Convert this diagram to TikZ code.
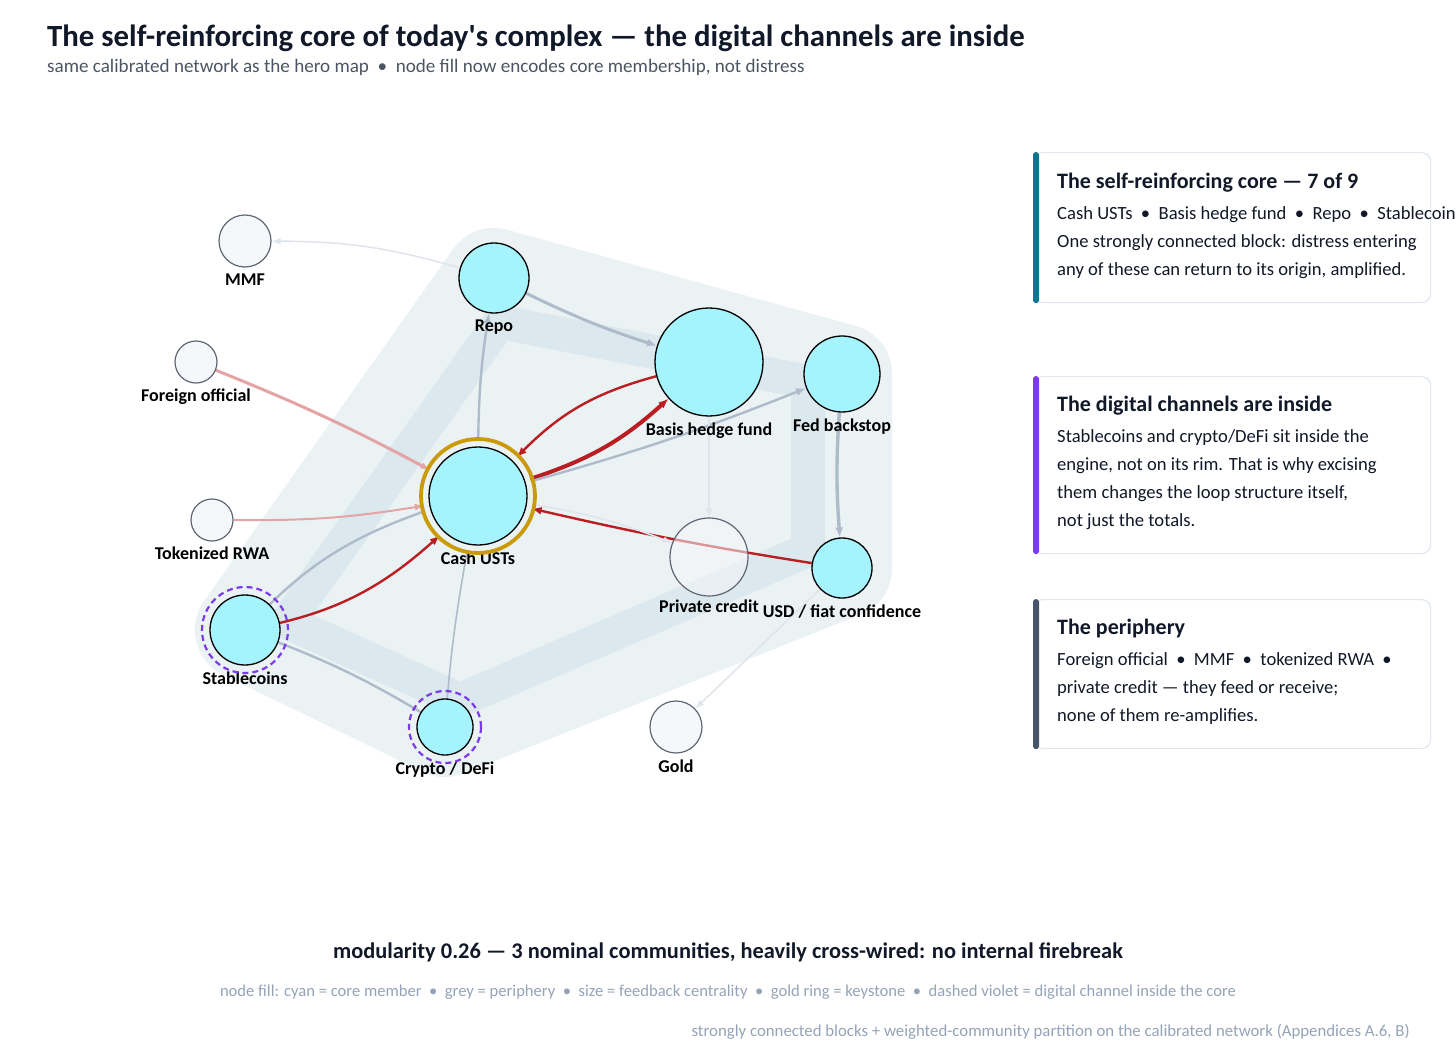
\documentclass[tikz,border=0pt]{standalone}
\usepackage{fontspec}
\setmainfont{Carlito}
\usetikzlibrary{arrows.meta, positioning, calc}

\definecolor{corecyan}{HTML}{A5F3FC}
\definecolor{hullpale}{HTML}{EAF2F4}
\definecolor{hullband}{HTML}{DBE8ED}
\definecolor{perifill}{HTML}{F5F7FB}
\definecolor{peririm}{HTML}{5F6673}
\definecolor{perilabel}{HTML}{6B7280}
\definecolor{keygold}{HTML}{CA9A08}
\definecolor{digviolet}{HTML}{7C3AED}
\definecolor{ampred}{HTML}{BA1E22}
\definecolor{leakpink}{HTML}{E4A4A6}
\definecolor{flowgrey}{HTML}{AEBBCA}
\definecolor{faintgrey}{HTML}{E0E5EC}
\definecolor{panelrim}{HTML}{E2E8F0}
\definecolor{accentteal}{HTML}{0E7490}
\definecolor{accentslate}{HTML}{475569}
\definecolor{inkdark}{HTML}{111827}
\definecolor{subgrey}{HTML}{4B5563}
\definecolor{notegrey}{HTML}{94A3B8}

\pgfdeclarelayer{hull}
\pgfdeclarelayer{edges}
\pgfsetlayers{hull,edges,main}

\begin{document}
\begin{tikzpicture}[x=1pt, y=-1pt, font=\fontsize{18}{21}\selectfont,
          core/.style={circle, draw=black, line width=1.3pt, fill=corecyan, inner sep=0pt},
          peri/.style={circle, draw=peririm, line width=1.2pt, fill=perifill, inner sep=0pt,
            every label/.append style={text=perilabel}},
          ringed/.style={outer sep=6pt},
          every label/.style={font=\fontsize{18}{21}\selectfont\bfseries, inner sep=1pt},
          flow/.style={-{Latex[length=10pt,width=8pt]}, draw=flowgrey, line width=2.4pt},
          faint/.style={-{Latex[length=9pt,width=7pt]}, draw=faintgrey, line width=1.6pt},
          amp/.style={-{Latex[length=10pt,width=8pt]}, draw=ampred, line width=2.4pt},
          leak/.style={-{Latex[length=9pt,width=7pt]}, draw=leakpink, line width=2.4pt},
          panel/.style={draw=panelrim, line width=1.2pt, fill=white, rounded corners=9pt, anchor=north west,
            minimum width=397pt, inner sep=0pt},
          ptitle/.style={anchor=base west, inner sep=0pt, font=\fontsize{22}{26}\selectfont\bfseries, text=inkdark},
          pbody/.style={anchor=base west, inner sep=0pt, align=left, font=\fontsize{18.6}{28}\selectfont, text=inkdark}]
  \useasboundingbox (0,0) rectangle (1456,1057);

  % heading
  \node [anchor=base west, inner sep=0pt, font=\fontsize{30.8}{34}\selectfont\bfseries, text=inkdark] (title) at (47,47)
    {The self-reinforcing core of today\textquotesingle s complex — the digital channels are inside};
  \node [anchor=base west, inner sep=0pt, font=\fontsize{19.1}{22}\selectfont, text=subgrey] (subtitle) at (47,73)
    {same calibrated network as the hero map \ • \ node fill now encodes core membership, not distress};

  % network nodes
  \node [peri, minimum size=52pt, label={[label distance=5pt]below:MMF}] (mmf) at (245,241) {};
  \node [peri, minimum size=42pt, label={[label distance=4pt]below:Foreign official}] (forn) at (196,362) {};
  \node [peri, minimum size=42pt, label={[label distance=4pt]below:Tokenized RWA}] (rwa) at (212,520) {};
  \node [core, minimum size=70pt, label={[label distance=5pt]below:Repo}] (repo) at (494,278) {};
  \node [core, minimum size=108pt, label={[label distance=5pt]below:Basis hedge fund}] (basis) at (709,362) {};
  \node [core, minimum size=76pt, label={[label distance=5pt]below:Fed backstop}] (fed) at (842,374) {};
  \node [core, ringed, minimum size=98pt, label=below:Cash USTs] (cash) at (478,496) {};
  \node [peri, minimum size=78pt, fill opacity=0.55, text opacity=1, label={[label distance=2pt]below:Private credit}] (pcred) at (709,557) {};
  \node [core, minimum size=60pt, label={[label distance=5pt]below:USD / fiat confidence}] (usd) at (842,568) {};
  \node [core, ringed, minimum size=70pt, label=below:Stablecoins] (stab) at (245,630) {};
  \node [core, ringed, minimum size=56pt, label=below:Crypto / DeFi] (crypto) at (445,727) {};
  \node [peri, minimum size=52pt, label={[label distance=5pt]below:Gold}] (gold) at (676,727) {};

  % keystone and digital rings
  \draw [keygold, line width=3.8pt] (cash.center) circle [radius=57pt];
  \draw [digviolet, line width=2.2pt, dash pattern=on 6pt off 4pt] (stab.center) circle [radius=43pt];
  \draw [digviolet, line width=2.2pt, dash pattern=on 6pt off 4pt] (crypto.center) circle [radius=36pt];

  % core hull
  \begin{pgfonlayer}{hull}
    \filldraw [hullpale, line width=100pt, line join=round]
      (stab.center) -- (repo.center) -- (fed.center) -- (usd.center) -- (crypto.center) -- cycle;
    \draw [hullband, line width=34pt, line join=miter]
      (287,622) -- (500,322) -- (808,382) -- (808,550) -- (460,700) -- cycle;
  \end{pgfonlayer}

  % connectors (ends under the digital nodes are hidden by their fill)
  \begin{pgfonlayer}{edges}
    \draw [faint] (repo) to[bend right=8] (mmf);
    \draw [leak, line width=3pt] (forn) to[bend left=3] (cash);
    \draw [leak, line width=2pt] (rwa) to[bend right=5] (cash);
    \draw [flow] (cash) to[bend left=4] (repo);
    \draw [flow, line width=3pt] (repo) to[bend right=4] (basis);
    \draw [amp] (basis) to[bend right=15] (cash);
    \draw [amp, line width=4pt] (cash) to[bend right=12] (basis);
    \draw [flow] (cash) to[bend right=3] (fed);
    \draw [flow, line width=3.4pt] (fed) to[bend right=4] (usd);
    \draw [amp] (usd) to[bend left=2] (cash);
    \draw [faint] (cash) to[bend left=6] (pcred);
    \draw [faint] (basis) -- (pcred);
    \draw [amp] (stab.center) to[bend right=16] (cash);
    \draw [flow, -] (cash) to[bend right=14] (stab.center);
    \draw [flow, -, line width=1.6pt] (cash) to[bend right=3] (crypto.center);
    \draw [flow, -] (stab.center) to[bend left=6] (crypto.center);
    \draw [faint] (usd) -- (gold);
  \end{pgfonlayer}

  % side panels
  \node [panel, minimum height=150pt] (pcore) at (1033,152) {};
  \fill [accentteal, rounded corners=3pt] (pcore.north west) rectangle ($(pcore.south west)+(6,0)$);
  \node [ptitle] (pcoretitle) at (1057,188) {The self-reinforcing core — 7 of 9};
  \node [pbody] (pcorebody) at (1057,275)
    {Cash USTs \ • \ Basis hedge fund \ • \ Repo \ • \ Stablecoins\\
     One strongly connected block: distress entering\\
     any of these can return to its origin, amplified.};

  \node [panel, minimum height=177pt] (pdigital) at (1033,376) {};
  \fill [digviolet, rounded corners=3pt] (pdigital.north west) rectangle ($(pdigital.south west)+(6,0)$);
  \node [ptitle] (pdigitaltitle) at (1057,411) {The digital channels are inside};
  \node [pbody] (pdigitalbody) at (1057,526)
    {Stablecoins and crypto/DeFi sit inside the\\
     engine, not on its rim. That is why excising\\
     them changes the loop structure itself,\\
     not just the totals.};

  \node [panel, minimum height=149pt] (pperi) at (1033,599) {};
  \fill [accentslate, rounded corners=3pt] (pperi.north west) rectangle ($(pperi.south west)+(6,0)$);
  \node [ptitle] (pperititle) at (1057,634) {The periphery};
  \node [pbody] (pperibody) at (1057,721)
    {Foreign official \ • \ MMF \ • \ tokenized RWA \ •\\
     private credit — they feed or receive;\\
     none of them re-amplifies.};

  % footer
  \node [anchor=base, inner sep=0pt, font=\fontsize{22.4}{26}\selectfont\bfseries, text=inkdark] (modularity) at (728,958)
    {modularity 0.26 — 3 nominal communities, heavily cross-wired: no internal firebreak};
  \node [anchor=base, inner sep=0pt, font=\fontsize{16.6}{19}\selectfont, text=notegrey] (legend) at (728,996)
    {node fill: cyan = core member \ • \ grey = periphery \ • \ size = feedback centrality \ • \ gold ring = keystone \ • \ dashed violet = digital channel inside the core};
  \node [anchor=base east, inner sep=0pt, font=\fontsize{16.8}{19}\selectfont, text=notegrey] (source) at (1410,1036)
    {strongly connected blocks + weighted-community partition on the calibrated network (Appendices A.6, B)};
\end{tikzpicture}
\end{document}
